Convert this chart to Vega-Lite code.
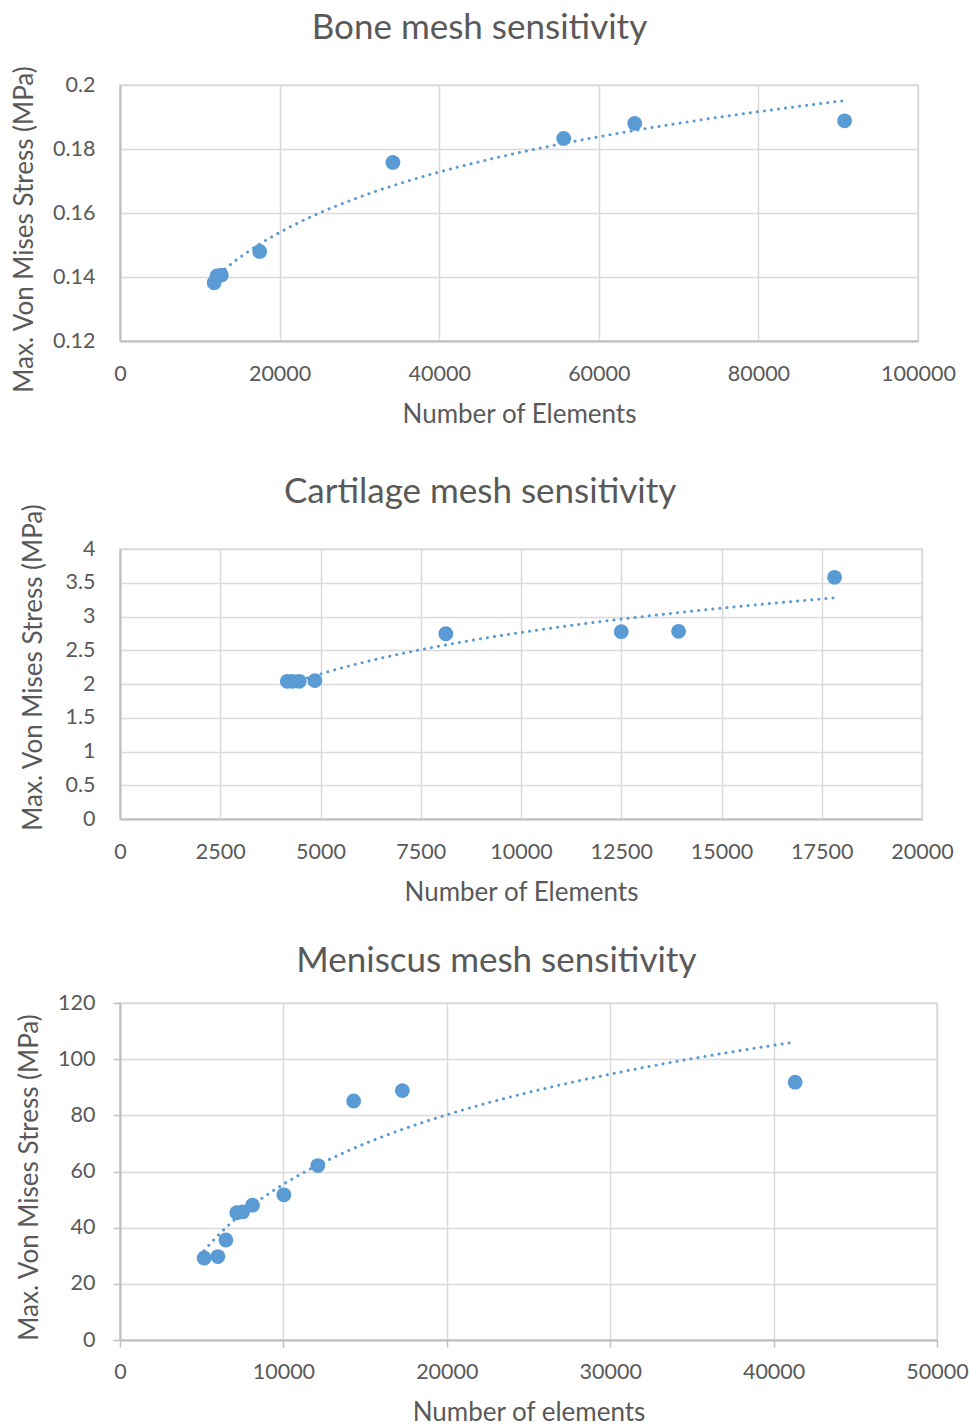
{
  "$schema": "https://vega.github.io/schema/vega-lite/v6.json",
  "padding": {"left": 10, "top": 10, "right": 0, "bottom": 0},
  "background": "white",
  "config": {
    "font": "Lato",
    "view": {"stroke": "#d9d9d9", "strokeWidth": 1.5},
    "axis": {
      "labelColor": "#595959", "titleColor": "#595959",
      "labelFontSize": 21.5, "titleFontSize": 26, "titleFontWeight": "normal",
      "labelFont": "Lato", "titleFont": "Lato", "labelOverlap": false, "labelFlush": false,
      "gridColor": "#d9d9d9", "gridWidth": 1.5,
      "domainColor": "#bfbfbf", "domainWidth": 2,
      "tickColor": "#bfbfbf", "tickWidth": 1.5
    },
    "title": {"fontSize": 35, "fontWeight": "normal", "color": "#595959", "font": "Lato", "frame": "bounds", "anchor": "middle", "baseline": "bottom"}
  },
  "spacing": 45,
  "vconcat": [
    {
      "width": 798, "height": 256,
      "title": {"text": "Bone mesh sensitivity", "offset": 19, "dx": -4},
      "data": {"values": [
        {"elements": 11800, "stress": 0.1382},
        {"elements": 12150, "stress": 0.1403},
        {"elements": 12700, "stress": 0.1406},
        {"elements": 17500, "stress": 0.148},
        {"elements": 34200, "stress": 0.1758},
        {"elements": 55600, "stress": 0.1833},
        {"elements": 64500, "stress": 0.188},
        {"elements": 90800, "stress": 0.1888}
      ]},
      "layer": [
        {
          "mark": {"type": "circle", "size": 220, "color": "#5b9bd5", "opacity": 1},
          "encoding": {
            "x": {"field": "elements", "type": "quantitative", "scale": {"domain": [0, 100000], "nice": false},
              "axis": {"title": "Number of Elements", "values": [0, 20000, 40000, 60000, 80000, 100000], "tickCount": 10, "format": "d", "ticks": false, "tickSize": 0, "labelPadding": 22, "titlePadding": 17}},
            "y": {"field": "stress", "type": "quantitative", "scale": {"domain": [0.12, 0.2], "nice": false, "zero": false},
              "axis": {"title": "Max. Von Mises Stress (MPa)", "titleY": 144, "values": [0.12, 0.14, 0.16, 0.18, 0.2], "tickCount": 10, "format": ".2~f", "ticks": false, "tickSize": 0, "labelPadding": 25, "titlePadding": 15}}
          }
        },
        {
          "transform": [{"regression": "stress", "on": "elements", "method": "log"}],
          "mark": {"type": "line", "color": "#5b9bd5", "strokeWidth": 3, "strokeDash": [0.1, 7], "strokeCap": "round"},
          "encoding": {
            "x": {"field": "elements", "type": "quantitative"},
            "y": {"field": "stress", "type": "quantitative"}
          }
        }
      ]
    },
    {
      "spacing": 36,
      "vconcat": [
        {
          "width": 802, "height": 270,
          "title": {"text": "Cartilage mesh sensitivity", "offset": -7, "dx": -7},
          "data": {"values": [
            {"elements": 4170, "stress": 2.04},
            {"elements": 4300, "stress": 2.04},
            {"elements": 4470, "stress": 2.04},
            {"elements": 4860, "stress": 2.05},
            {"elements": 8125, "stress": 2.745},
            {"elements": 12500, "stress": 2.775},
            {"elements": 13930, "stress": 2.78},
            {"elements": 17820, "stress": 3.58}
          ]},
          "layer": [
            {
              "mark": {"type": "circle", "size": 220, "color": "#5b9bd5", "opacity": 1},
              "encoding": {
                "x": {"field": "elements", "type": "quantitative", "scale": {"domain": [0, 20000], "nice": false},
                  "axis": {"title": "Number of Elements", "values": [0, 2500, 5000, 7500, 10000, 12500, 15000, 17500, 20000], "tickCount": 12, "format": "d", "ticks": false, "tickSize": 0, "labelPadding": 22, "titlePadding": 17}},
                "y": {"field": "stress", "type": "quantitative", "scale": {"domain": [0, 4], "nice": false},
                  "axis": {"title": "Max. Von Mises Stress (MPa)", "titleY": 118, "values": [0, 0.5, 1, 1.5, 2, 2.5, 3, 3.5, 4], "tickCount": 12, "format": "~g", "ticks": false, "tickSize": 0, "labelPadding": 25, "titlePadding": 18}}
              }
            },
            {
              "transform": [{"regression": "stress", "on": "elements", "method": "log"}],
              "mark": {"type": "line", "color": "#5b9bd5", "strokeWidth": 3, "strokeDash": [0.1, 7], "strokeCap": "round"},
              "encoding": {
                "x": {"field": "elements", "type": "quantitative"},
                "y": {"field": "stress", "type": "quantitative"}
              }
            }
          ]
        },
        {
          "width": 817, "height": 337,
          "title": {"text": "Meniscus mesh sensitivity", "offset": 13, "dx": 4},
          "data": {"values": [
            {"elements": 5150, "stress": 29.2},
            {"elements": 5990, "stress": 29.7},
            {"elements": 6480, "stress": 35.6},
            {"elements": 7150, "stress": 45.3},
            {"elements": 7500, "stress": 45.6},
            {"elements": 8110, "stress": 48.0},
            {"elements": 10030, "stress": 51.7},
            {"elements": 12110, "stress": 62.1},
            {"elements": 14300, "stress": 85.1},
            {"elements": 17280, "stress": 88.8},
            {"elements": 41320, "stress": 91.8}
          ]},
          "layer": [
            {
              "mark": {"type": "circle", "size": 220, "color": "#5b9bd5", "opacity": 1},
              "encoding": {
                "x": {"field": "elements", "type": "quantitative", "scale": {"domain": [0, 50000], "nice": false},
                  "axis": {"title": "Number of elements", "values": [0, 10000, 20000, 30000, 40000, 50000], "tickCount": 10, "format": "d", "ticks": true, "tickSize": 7, "labelPadding": 14, "titlePadding": 17}},
                "y": {"field": "stress", "type": "quantitative", "scale": {"domain": [0, 120], "nice": false},
                  "axis": {"title": "Max. Von Mises Stress (MPa)", "titleY": 174, "values": [0, 20, 40, 60, 80, 100, 120], "tickCount": 10, "format": "d", "ticks": true, "tickSize": 7, "labelPadding": 18, "titlePadding": 15}}
              }
            },
            {
              "transform": [{"regression": "stress", "on": "elements", "method": "log"}],
              "mark": {"type": "line", "color": "#5b9bd5", "strokeWidth": 3, "strokeDash": [0.1, 7], "strokeCap": "round"},
              "encoding": {
                "x": {"field": "elements", "type": "quantitative"},
                "y": {"field": "stress", "type": "quantitative"}
              }
            }
          ]
        }
      ]
    }
  ]
}
